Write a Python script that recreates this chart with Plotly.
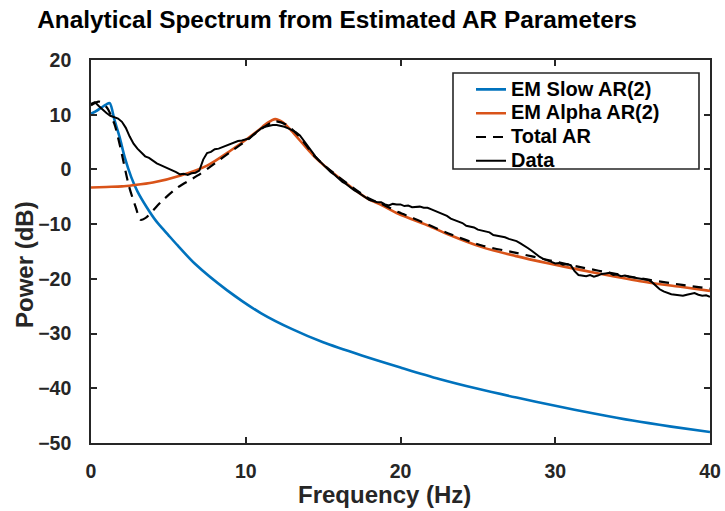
import plotly.graph_objects as go

# ---------------- data ----------------
slow_freq = [0, 0.3, 0.67, 1.0, 1.21, 1.53, 1.85, 2.18, 2.6, 3.0, 3.6, 4.2, 4.5, 5.0, 5.6,
             6.7, 8.8, 11.0, 13.0, 15.0, 17.5, 20.0, 22.5, 25.0, 27.5, 30.0,
             32.5, 35.0, 37.5, 40.0]
slow_db = [10.2, 10.6, 11.3, 11.9, 12.1, 8.9, 5.9, 2.2, -1.4, -4.0, -6.9, -9.4, -10.4, -12.0, -13.9,
           -17.2, -22.1, -26.3, -29.2, -31.6, -34.0, -36.2, -38.3, -40.1, -41.7, -43.2,
           -44.6, -45.9, -47.0, -48.0]

alpha_freq = [0, 1.0, 2.0, 2.7, 4.0, 5.8, 7.5, 9.05, 10.1, 10.8, 11.4, 11.9, 12.4, 12.94,
              14.45, 15.97, 17.9, 18.77, 19.86, 21.9, 23.1, 25.26, 27.4, 29.6, 31.7, 33.9,
              36.1, 38.2, 40.0]
alpha_db = [-3.3, -3.2, -3.1, -2.9, -2.4, -1.1, 0.7, 3.5, 5.6, 7.1, 8.5, 9.2, 8.6, 7.1,
            2.3, -1.4, -5.4, -6.5, -8.1, -10.4, -11.9, -14.2, -15.8, -17.2, -18.4, -19.6,
            -20.7, -21.5, -22.2]

total_freq = [0, 0.5, 1.0, 1.5, 1.9, 2.45, 2.9, 3.2, 3.6, 4.5, 5.6, 6.9, 7.96, 9.05, 10.1,
              11.2, 11.9, 12.6, 13.5, 14.45, 15.97, 17.9, 18.77, 19.86, 20.9, 23.1, 25.26,
              27.4, 29.6, 31.7, 33.9, 36.1, 38.2, 40.0]
total_db = [11.7, 12.4, 11.4, 8.4, 4.0, -3.0, -7.0, -9.2, -8.7, -6.0, -3.3, -1.1, 1.0, 3.3, 5.4,
            7.8, 8.8, 8.2, 5.9, 2.4, -1.3, -5.2, -6.3, -7.8, -9.0, -11.7, -13.9,
            -15.2, -16.6, -17.9, -19.1, -20.2, -21.1, -21.8]

data_freq = [i * 0.25 for i in range(161)]
data_db = [12.0, 12.3, 11.6, 10.9, 10.3, 9.8, 9.5, 9.3, 8.7, 7.6,
           6.0, 4.7, 3.8, 3.0, 2.4, 2.1, 1.6, 1.1, 0.8, 0.5,
           0.1, -0.2, -0.5, -0.9, -0.8, -1.0, -0.7, -0.6, -0.2, 1.8,
           3.0, 3.2, 3.7, 3.8, 4.1, 4.3, 4.6, 5.0, 5.2, 5.3,
           5.5, 5.7, 6.4, 7.0, 7.5, 7.8, 8.0, 8.1, 8.1, 8.0,
           7.8, 7.5, 7.2, 6.8, 6.2, 5.2, 4.2, 3.3, 2.4, 1.6,
           0.9, 0.2, -0.5, -1.0, -1.6, -2.3, -2.7, -3.3, -3.8, -4.2,
           -4.7, -5.1, -5.6, -5.8, -6.0, -6.0, -6.4, -6.6, -6.3, -6.4,
           -6.4, -6.7, -6.6, -6.9, -6.9, -6.8, -7.0, -7.0, -7.3, -7.6,
           -8.0, -8.2, -8.5, -9.0, -9.3, -9.6, -9.8, -10.3, -10.5, -10.6,
           -11.0, -11.2, -11.4, -11.5, -12.0, -12.1, -12.3, -12.4, -12.7, -12.9,
           -13.1, -13.5, -13.9, -14.4, -14.9, -15.5, -16.0, -16.4, -16.6, -16.9,
           -17.2, -17.1, -17.4, -17.3, -17.5, -18.6, -19.3, -19.4, -19.5, -19.3,
           -19.6, -19.4, -19.1, -19.0, -18.9, -19.3, -19.2, -19.5, -19.4, -19.6,
           -19.7, -19.8, -19.9, -20.1, -20.2, -20.6, -21.3, -21.9, -22.3, -22.6,
           -22.8, -22.9, -23.0, -23.1, -22.9, -22.8, -22.6, -22.9, -23.1, -23.0,
           -23.3]

x_ticks = [0, 10, 20, 30, 40]
y_ticks = [-50, -40, -30, -20, -10, 0, 10, 20]

names = ["EM Slow AR(2)", "EM Alpha AR(2)", "Total AR", "Data"]

# ---------------- figure ----------------
FONT = "Liberation Sans, Arial, sans-serif"
AXC = "#262626"
W, H = 725, 511
L, R, T, B = 91, 15, 60, 68
pw, ph = W - L - R, H - T - B


def px_x(p):
    return (p - L) / pw


def px_y(p):
    return (H - B - p) / ph


def leg(name):
    return '<span style="font-size:20px">' + name + '</span>'


fig = go.Figure()
fig.add_trace(go.Scatter(x=slow_freq, y=slow_db, mode="lines", name=leg(names[0]),
                         line=dict(color="#0072BD", width=2.6, shape="spline", smoothing=0.8)))
fig.add_trace(go.Scatter(x=alpha_freq, y=alpha_db, mode="lines", name=leg(names[1]),
                         line=dict(color="#D95319", width=2.6, shape="spline", smoothing=0.8)))
fig.add_trace(go.Scatter(x=total_freq, y=total_db, mode="lines", name=leg(names[2]),
                         line=dict(color="black", width=2.2, dash="10px,7px", shape="spline", smoothing=0.8)))
fig.add_trace(go.Scatter(x=data_freq, y=data_db, mode="lines", name=leg(names[3]),
                         line=dict(color="black", width=2.0)))

axis_common = dict(showgrid=False, zeroline=False, showline=True, linecolor=AXC, linewidth=1.6,
                   mirror="ticks", ticks="inside", ticklen=6, tickwidth=1.6, tickcolor=AXC,
                   automargin=False,
                   tickfont=dict(family=FONT, size=19.5, color="#262626", weight="bold"))

fig.update_xaxes(range=[0, 40], tickvals=x_ticks, ticklabelstandoff=10, **axis_common)
fig.update_yaxes(range=[-50, 20], tickvals=y_ticks, ticklabelstandoff=14, **axis_common)

# legend box (opaque, MATLAB-like)
fig.add_shape(type="rect", xref="paper", yref="paper",
              x0=px_x(453), x1=px_x(699), y0=px_y(169), y1=px_y(73),
              line=dict(color=AXC, width=1.6), fillcolor="white", layer="above")

fig.update_layout(
    width=W, height=H,
    margin=dict(l=L, r=R, t=T, b=B, autoexpand=False),
    paper_bgcolor="white", plot_bgcolor="white",
    showlegend=True,
    legend=dict(x=px_x(471), y=px_y(72.5), xanchor="left", yanchor="top",
                bgcolor="rgba(0,0,0,0)", borderwidth=0,
                font=dict(family=FONT, size=16, color="black", weight="bold"),
                tracegroupgap=0),
    title=dict(text="Analytical Spectrum from Estimated AR Parameters",
               x=337 / W, xref="container", xanchor="center",
               y=1 - 19 / H, yref="container", yanchor="middle",
               font=dict(family=FONT, size=24.4, color="black", weight="bold")),
    annotations=[
        dict(text="Frequency (Hz)", xref="paper", yref="paper", x=px_x(384), y=px_y(494),
             xanchor="center", yanchor="middle", showarrow=False,
             font=dict(family=FONT, size=24, color="#262626", weight="bold")),
        dict(text="Power (dB)", xref="paper", yref="paper", x=px_x(24), y=px_y(265),
             xanchor="center", yanchor="middle", showarrow=False, textangle=-90,
             font=dict(family=FONT, size=24, color="#262626", weight="bold")),
    ],
)

fig.write_html("out.html")
